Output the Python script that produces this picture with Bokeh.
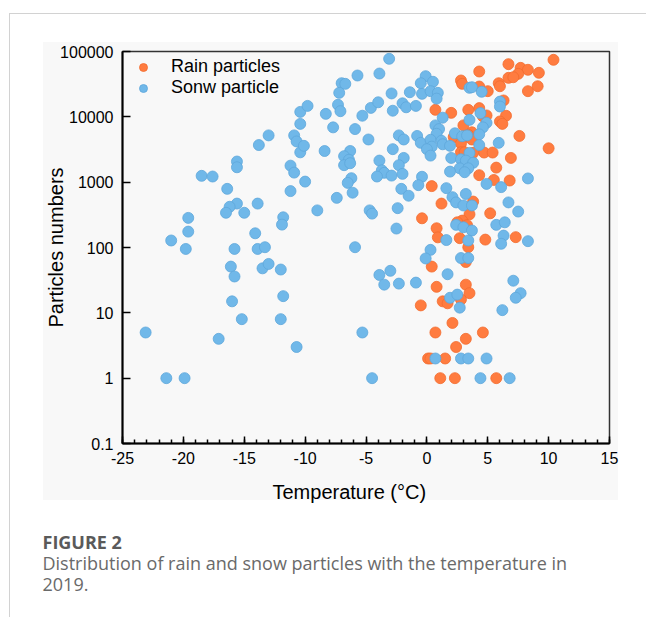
from bokeh.plotting import figure
from bokeh.models import FixedTicker, Legend, LegendItem, Title
from bokeh.embed import file_html
from bokeh.resources import INLINE

# ---------------- data ----------------
rain_temp = [6.7, 4.3, 7.7, 8.3, 7.5, 6.7, 7.1, 9.2, 10.4, 2.8, 2.9, 4.3, 5.0, 5.9, 6.0, 9.1, 8.3,
             6.3, 0.7, 2.0, 3.4, 4.3, 4.6, 4.9, 6.5, 6.0, 6.2, 3.0, 3.7, 3.4, 3.1, 2.9, 3.7, 2.2,
             7.6, 10.0, 2.8, 2.8, 3.1, 3.8, 4.7, 5.4, 6.9, 5.7, 4.3, 5.5, 6.8, 0.4, 1.2, 3.8, 5.2,
             3.5, 2.9, -0.4, 3.3, 0.8, 0.9, 2.7, 4.8, 7.3, 2.5, 3.4, 3.2, 0.4, 0.8, 3.2, 3.5, 1.3,
             1.7, 2.8, -0.5, 2.1, 0.7, 4.6, 3.2, 2.4, 0.1, 0.3, 1.5, 1.1, 2.3, 5.7]
rain_count = [64000, 49400, 56200, 52500, 45500, 39500, 40400, 47200, 74600, 36000, 32000, 29100,
              24700, 32700, 29400, 29400, 24700, 17800, 12800, 11500, 12800, 13600, 10200, 10500,
              10400, 8500, 7800, 7400, 5800, 5300, 5000, 4600, 4500, 4900, 5100, 3300, 3900, 2870,
              2870, 2810, 2840, 2840, 2350, 1670, 1280, 1080, 1060, 870, 470, 505, 334, 322, 258,
              280, 220, 197, 143, 139, 132, 144, 243, 101, 60, 51, 25, 27, 20, 15, 14, 16, 13, 7,
              5, 5, 4, 3, 2, 2, 2, 1, 1, 1]

snow_temp = [-10.4, -10.4, -10.9, -10.7, -10.4, -13.0, -13.8, -15.6, -15.6, -11.2, -10.9, -18.5,
             -17.6, -16.4, -11.2, -15.6, -16.2, -13.9, -16.5, -15.0, -19.6, -11.8, -11.9, -19.6,
             -14.1, -21.0, -19.8, -15.8, -13.9, -13.3, -16.1, -13.5, -13.0, -12.0, -15.8, -11.8,
             -16.0, -15.2, -12.0, -23.1, -17.1, -10.7, -21.4, -19.9,
             -3.1, -5.7, -3.9, -7.0, -6.7, -7.2, -2.9, -1.4, -0.1, -0.5, 0.5, -0.4, 0.3, 0.9, 0.8,
             3.5, 3.7, 4.5, 6.0, 6.0, -7.3, -7.1, -9.8, -8.3, -5.3, -4.6, -4.0, -2.8, -2.0, -1.7,
             -0.9, 1.3, 3.5, 4.4, 4.9, 4.6, 4.3, -7.7, -5.9, 0.7, 1.0, 0.8, 2.3, 2.9, 3.3, -4.8,
             -2.3, -1.9, -0.8, -0.5, 0.3, 0.4, 0.0, 1.2, 1.3, 1.9, 5.9, 4.3, -10.1, -8.4, -6.3,
             -6.8, -6.4, -6.8, -6.3, -2.8, -1.9, 0.3, 2.0, 2.8, 3.5, 3.2, 3.8, 2.7, 3.4, 3.1, 1.9,
             -3.9, -2.3, -3.7, -3.5, -4.1, -2.9, -2.0, -0.4, -0.7, -2.1, -1.5, -10.0, -6.2, -6.5,
             -6.1, -7.4, 1.6, 4.9, 6.1, 8.3, 2.1, 3.2, 2.4, 3.0, 3.7, 6.7, 7.5, -9.0, -4.7, -4.5,
             -2.4, -2.5, 2.4, 3.0, 3.7, 5.7, 6.4, 6.3, 6.1, 8.3, 1.6, 3.4, -5.9, 0.3, -0.1, 2.8,
             3.4, -3.9, -3.0, -3.5, -2.3, -0.9, 1.7, 7.1, 7.7, 7.3, 6.2, 1.9, 2.5, 2.7, -5.3, 0.7,
             2.8, 3.4, 4.9, -4.5, 4.4, 6.8]
snow_count = [11900, 7800, 5200, 4200, 2860, 5200, 3700, 2070, 1690, 1790, 1400, 1250, 1220, 790,
              730, 470, 420, 470, 340, 340, 284, 290, 224, 175, 165, 128, 95, 95, 95, 101, 51, 48,
              56, 46, 36, 18, 15, 8, 8, 5, 4, 3, 1, 1,
              77300, 42900, 46000, 32700, 32000, 23300, 22800, 23800, 41900, 32700, 34400, 22500,
              24700, 23300, 19000, 27800, 28400, 24200, 17100, 14400, 15300, 12200, 14700, 11100,
              10400, 13700, 16700, 12400, 16100, 14000, 14700, 9700, 9000, 11400, 8100, 6900,
              5400, 6900, 6500, 7400, 6500, 5500, 5600, 5050, 5200, 4500, 5200, 4500, 5100, 4000,
              4450, 3500, 3200, 4300, 3800, 3600, 4000, 3700, 3600, 3000, 3000, 2500, 2200, 1820,
              1950, 3200, 2350, 2550, 2350, 2240, 2800, 2140, 1980, 1630, 1630, 1420, 1450, 2140,
              1820, 1520, 1390, 1220, 1260, 1340, 1210, 900, 790, 620, 1020, 1150, 975, 690, 575,
              810, 940, 840, 1140, 590, 660, 490, 440, 440, 490, 355, 370, 370, 330, 400, 195, 222,
              204, 182, 222, 243, 152, 114, 125, 130, 128, 101, 92, 68, 69, 69, 38, 44, 27, 28, 29,
              39, 31, 20, 17, 11, 17, 19, 12, 5, 2, 2, 2, 2, 1, 1, 1]

series_names = ["Rain particles", "Sonw particle"]

x_ticks = [-25, -20, -15, -10, -5, 0, 5, 10, 15]
x_tick_labels = ["-25", "-20", "-15", "-10", "-5", "0", "5", "10", "15"]
x_minor_ticks = list(range(-25, 16))
y_ticks = [0.1, 1, 10, 100, 1000, 10000, 100000]
y_tick_labels = ["0.1", "1", "10", "100", "1000", "10000", "100000"]

x_title = "Temperature (°C)"
y_title = "Particles numbers"
fig_label = "FIGURE 2"
caption_lines = ["Distribution of rain and snow particles with the temperature in", "2019."]

# ---------------- figure ----------------
FONT = "Liberation Sans"
p = figure(width=646, height=617, x_range=(-25, 15), y_range=(0.1, 100000),
           y_axis_type="log", output_backend="svg", toolbar_location=None,
           min_border_left=122, min_border_right=37, min_border_top=51, min_border_bottom=174)
p.background_fill_color = None
p.border_fill_color = None
p.outline_line_color = "#333333"
p.outline_line_width = 1.5
p.xgrid.visible = False
p.ygrid.visible = False
# card border lines and the light chart-image backdrop (CSS behind the transparent canvas)
p.styles = {
    "background": ("linear-gradient(#d2d2d2,#d2d2d2) 9px 13px / 1px 604px no-repeat, "
                   "linear-gradient(#d2d2d2,#d2d2d2) 9px 13px / 637px 1px no-repeat, "
                   "linear-gradient(#f8f8f8,#f8f8f8) 43px 42px / 575px 458px no-repeat, "
                   "#ffffff")
}

r_rain = p.scatter(rain_temp, rain_count, size=11, fill_color="#FF7C40",
                   line_color="#F26C2E", line_width=0.8)
r_snow = p.scatter(snow_temp, snow_count, size=11, fill_color="#70B8E9",
                   line_color="#5EA7DB", line_width=0.8)

legend = Legend(items=[LegendItem(label=series_names[0], renderers=[r_rain]),
                       LegendItem(label=series_names[1], renderers=[r_snow])],
                location="top_left", margin=5, padding=7, spacing=0,
                glyph_width=32, glyph_height=20, label_height=20, label_standoff=12,
                border_line_color=None, background_fill_alpha=0,
                label_text_font=FONT, label_text_font_size="18px", label_text_color="black")
p.add_layout(legend)

# axes
p.xaxis.ticker = FixedTicker(ticks=x_ticks, minor_ticks=x_minor_ticks)
p.xaxis.major_label_overrides = {t: s for t, s in zip(x_ticks, x_tick_labels)}
p.yaxis.ticker = FixedTicker(ticks=y_ticks, minor_ticks=[])
p.yaxis.major_label_overrides = {t: s for t, s in zip(y_ticks, y_tick_labels)}
for ax in (p.xaxis[0], p.yaxis[0]):
    ax.axis_line_color = "black"
    ax.axis_line_width = 2
    ax.major_tick_line_color = "black"
    ax.major_tick_line_width = 1.5
    ax.major_tick_out = 0
    ax.major_label_text_font = FONT
    ax.major_label_text_font_size = "16px"
    ax.major_label_text_color = "black"
p.xaxis.major_tick_in = 7
p.xaxis.minor_tick_in = 4
p.xaxis.minor_tick_out = 0
p.xaxis.minor_tick_line_color = "black"
p.xaxis.minor_tick_line_width = 1.5
p.xaxis.major_label_standoff = 8
p.yaxis.major_tick_in = 8
p.yaxis.minor_tick_line_color = None
p.yaxis.major_label_standoff = 9

p.yaxis.axis_label = y_title
p.yaxis.axis_label_text_font = FONT
p.yaxis.axis_label_text_font_size = "20px"
p.yaxis.axis_label_text_font_style = "normal"
p.yaxis.axis_label_text_color = "black"
p.yaxis.axis_label_standoff = -10

# x title and caption as titles stacked below the x axis
p.add_layout(Title(text=x_title, align="left", offset=150, standoff=24,
                   text_font=FONT, text_font_size="20px", text_font_style="normal",
                   text_color="black"), "below")
# small spacer before the caption block
p.add_layout(Title(text=" ", align="left", offset=0, standoff=9,
                   text_font_size="2px"), "below")
p.add_layout(Title(text=fig_label, align="left", offset=-80, standoff=0,
                   text_font="Open Sans", text_font_size="18px", text_font_style="bold",
                   text_color="#5a5a5a"), "below")
caption_standoffs = [-10, 12]
for line, so in zip(caption_lines, caption_standoffs):
    p.add_layout(Title(text=line, align="left", offset=-80, standoff=so,
                       text_font="Open Sans", text_font_size="18px",
                       text_font_style="normal", text_color="#6a6a6a"), "below")

open("out.html", "w").write(file_html(p, INLINE))
